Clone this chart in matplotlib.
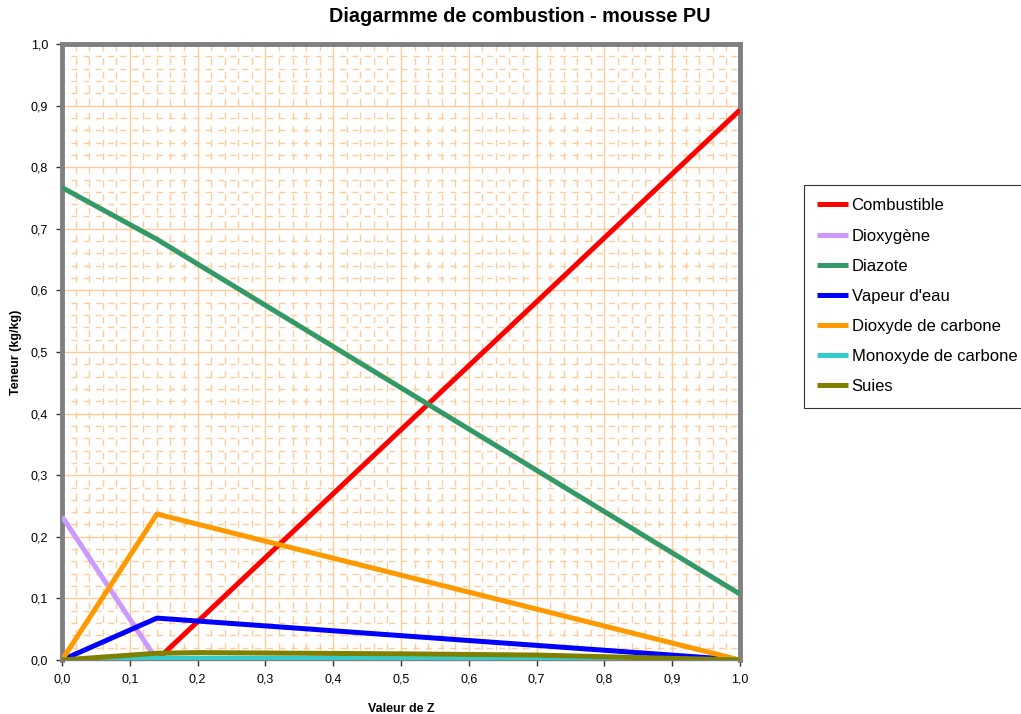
import numpy as np
import matplotlib.pyplot as plt
from matplotlib.ticker import MultipleLocator, FuncFormatter

plt.rcParams['font.family'] = ['Liberation Sans', 'DejaVu Sans']

z_main = [0.0, 0.14, 1.0]
combustible = [0.0, 0.0, 0.893]
dioxygene = [0.233, 0.0, 0.0]
diazote = [0.767, 0.683, 0.107]
vapeur = [0.0, 0.068, 0.0]
co2 = [0.0, 0.237, 0.0]

z_co = [0.0, 0.14, 0.6, 1.0]
co = [0.0, 0.003, 0.002, 0.0]

z_suies = [0.0, 0.14, 0.2, 0.5, 0.7, 1.0]
suies = [0.0, 0.011, 0.012, 0.010, 0.008, 0.0]

series = [
    ('Combustible', z_main, combustible, '#FF0000'),
    ('Dioxygène', z_main, dioxygene, '#CC99FF'),
    ('Diazote', z_main, diazote, '#339966'),
    ("Vapeur d'eau", z_main, vapeur, '#0000FF'),
    ('Dioxyde de carbone', z_main, co2, '#FF9900'),
    ('Monoxyde de carbone', z_co, co, '#33CCCC'),
    ('Suies', z_suies, suies, '#808000'),
]

fig = plt.figure(figsize=(10.21, 7.14), dpi=100)
ax = fig.add_axes([62 / 1021, 54 / 714, 678 / 1021, 616 / 714])

lines = []
for label, x, y, color in series:
    ln, = ax.plot(x, y, color=color, lw=3.6, label=label, solid_capstyle='butt',
                  zorder=3)
    lines.append(ln)

ax.set_xlim(0, 1)
ax.set_ylim(0, 1)
ax.xaxis.set_major_locator(MultipleLocator(0.1))
ax.yaxis.set_major_locator(MultipleLocator(0.1))
ax.xaxis.set_minor_locator(MultipleLocator(0.02))
ax.yaxis.set_minor_locator(MultipleLocator(0.02))
fmt = FuncFormatter(lambda v, p: f"{v:.1f}".replace('.', ','))
ax.xaxis.set_major_formatter(fmt)
ax.yaxis.set_major_formatter(fmt)

ax.grid(which='major', color='#FFCC99', lw=1, ls='-', zorder=0)
ax.xaxis.grid(which='minor', color='#FFCC99', lw=1, ls=(2.4, (4.9, 4.9)), zorder=0)
ax.yaxis.grid(which='minor', color='#FFCC99', lw=1, ls=(2.4, (4.4, 4.4)), zorder=0)
ax.set_axisbelow(True)

ax.tick_params(which='minor', length=0)
ax.tick_params(which='major', length=4, width=1, color='#333333',
               labelsize=9, direction='out', pad=6)

for side in ['left', 'top', 'right']:
    ax.spines[side].set_color('#808080')
    ax.spines[side].set_linewidth(3.5)
ax.spines['bottom'].set_color('#808080')
ax.spines['bottom'].set_linewidth(1)

ax.set_xlabel('Valeur de Z', fontsize=9, fontweight='bold', labelpad=12)
ax.set_ylabel('Teneur (kg/kg)', fontsize=9, fontweight='bold', labelpad=6)

fig.text(520 / 1021, 1 - 16 / 714, 'Diagarmme de combustion - mousse PU',
         ha='center', va='center', fontsize=14.3, fontweight='bold')

leg = fig.legend(handles=lines, loc='upper left',
                 bbox_to_anchor=(804 / 1021, 1 - 185 / 714),
                 frameon=True, fancybox=False, edgecolor='#000000',
                 fontsize=12, handlelength=1.85, handletextpad=0.2,
                 labelspacing=0.91, borderpad=0.8, borderaxespad=0)
leg.get_frame().set_linewidth(0.8)

fig.savefig('out.png', dpi=100)
